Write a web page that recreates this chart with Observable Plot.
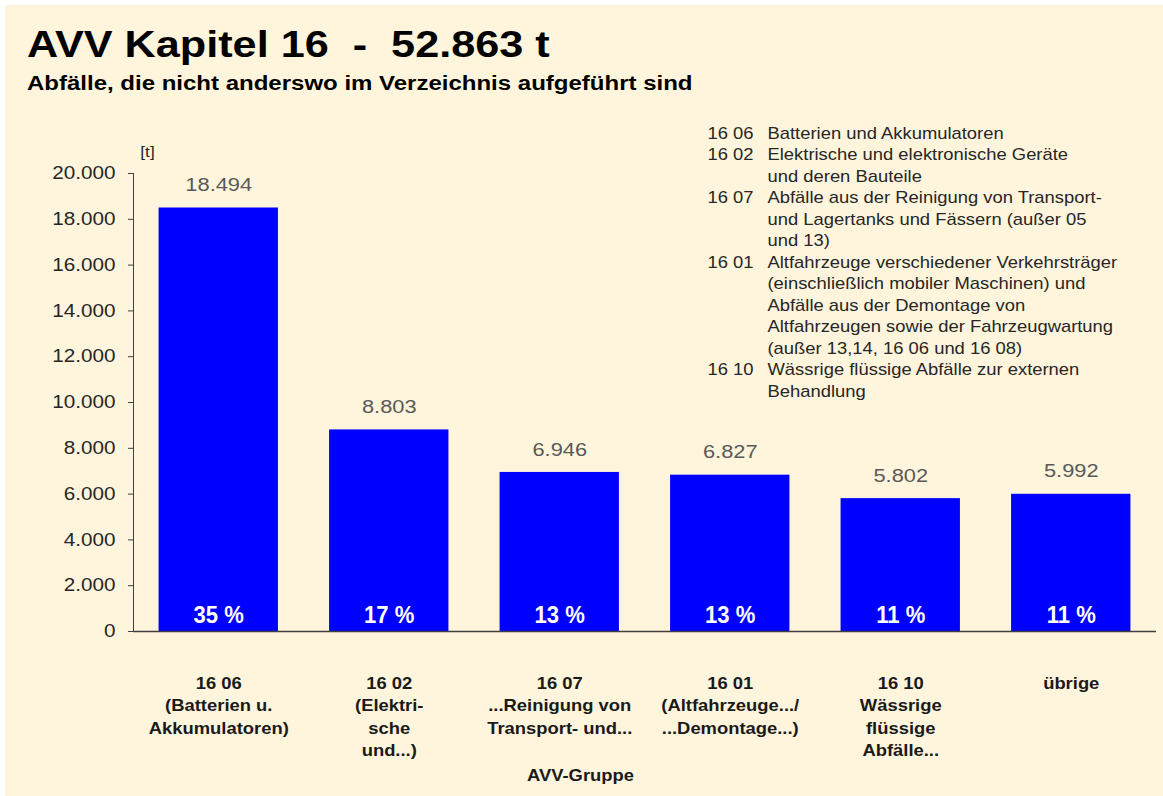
<!DOCTYPE html>
<html>
<head>
<meta charset="utf-8">
<script src="https://cdn.jsdelivr.net/npm/d3@7"></script>
<script src="https://cdn.jsdelivr.net/npm/@observablehq/plot@0.6"></script>
<style>
  html, body { margin: 0; padding: 0; background: #ffffff; width: 1163px; height: 796px; overflow: hidden; }
  #panel { position: absolute; left: 5px; top: 5px; width: 1158px; height: 791px; background: #FFF5DC; }
  #title { position: absolute; left: 27px; top: 27px; font-family: "Liberation Sans", Arial, sans-serif; font-weight: bold; font-size: 36px; color: #000; white-space: pre; line-height: 1; transform: scale(1.2, 1); transform-origin: 0 0; }
  #subtitle { position: absolute; left: 27px; top: 73px; font-family: "Liberation Sans", Arial, sans-serif; font-weight: bold; font-size: 20px; color: #000; white-space: pre; line-height: 1; transform: scale(1.2, 1); transform-origin: 0 0; }
  #chart { position: absolute; left: 0; top: 100px; }
</style>
</head>
<body>
<div id="panel"></div>
<div id="title">AVV Kapitel 16  -  52.863 t</div>
<div id="subtitle">Abfälle, die nicht anderswo im Verzeichnis aufgeführt sind</div>
<div id="chart"></div>
<script>
const categories = ["16 06", "16 02", "16 07", "16 01", "16 10", "übrige"];
const values = [18494, 8803, 6946, 6827, 5802, 5992];
const percents = [35, 17, 13, 13, 11, 11];
const xLabels = [
  "16 06\n(Batterien u.\nAkkumulatoren)",
  "16 02\n(Elektri-\nsche\nund...)",
  "16 07\n...Reinigung von\nTransport- und...",
  "16 01\n(Altfahrzeuge.../\n...Demontage...)",
  "16 10\nWässrige\nflüssige\nAbfälle...",
  "übrige"
];
const yTicks = [0, 2000, 4000, 6000, 8000, 10000, 12000, 14000, 16000, 18000, 20000];
const legendCodes = ["16 06", "16 02", "16 07", "16 01", "16 10"];
const legendTexts = [
  "Batterien und Akkumulatoren",
  "Elektrische und elektronische Geräte\nund deren Bauteile",
  "Abfälle aus der Reinigung von Transport-\nund Lagertanks und Fässern (außer 05\nund 13)",
  "Altfahrzeuge verschiedener Verkehrsträger\n(einschließlich mobiler Maschinen) und\nAbfälle aus der Demontage von\nAltfahrzeugen sowie der Fahrzeugwartung\n(außer 13,14, 16 06 und 16 08)",
  "Wässrige flüssige Abfälle zur externen\nBehandlung"
];
const yUnit = "[t]";
const xTitle = "AVV-Gruppe";

const de = d3.formatLocale({decimal: ",", thousands: ".", grouping: [3], currency: ["", " €"]});
const fmt = de.format(",.0f");

const data = categories.map((c, i) => ({cat: c, value: values[i], pct: percents[i], label: xLabels[i]}));

const FONT = "Liberation Sans, Arial, sans-serif";
const STRETCH = 1.15;
const PCT_STRETCH = 0.92;
const W = 1163, H = 696;
const mL = 133, mR = 7, mT = 73, mB = 165;
const LINE = 21.5;

// legend: one text mark per line, positioned by running line index
const legendMarks = [];
let lineIdx = 0;
legendCodes.forEach((code, i) => {
  const lines = legendTexts[i].split("\n");
  legendMarks.push(Plot.text([code], {
    text: d => d, frameAnchor: "top-left", dx: 707 - mL, dy: -40 + lineIdx * LINE,
    textAnchor: "start", lineAnchor: "middle", fontSize: 16, fill: "#262626", fontFamily: FONT
  }));
  lines.forEach((ln, j) => {
    legendMarks.push(Plot.text([ln], {
      text: d => d, frameAnchor: "top-left", dx: 767 - mL, dy: -40 + (lineIdx + j) * LINE,
      textAnchor: "start", lineAnchor: "middle", fontSize: 16, fill: "#262626", fontFamily: FONT
    }));
  });
  lineIdx += lines.length;
});

const chart = Plot.plot({
  width: W,
  height: H,
  marginLeft: mL,
  marginRight: mR,
  marginTop: mT,
  marginBottom: mB,
  style: {background: "transparent", fontFamily: FONT, overflow: "visible"},
  x: {type: "band", domain: categories, paddingInner: 0.3, paddingOuter: 0.15, round: false, axis: null},
  y: {domain: [0, 20000], axis: null},
  marks: [
    Plot.barY(data, {x: "cat", y: "value", fill: "#0000FF"}),
    Plot.axisY({ticks: yTicks, tickFormat: fmt, tickSize: 5, tickPadding: 13, fontSize: 18, fill: "#262626", stroke: "#404040", label: null}),
    Plot.frame({anchor: "left", stroke: "#404040"}),
    Plot.ruleY([0], {stroke: "#404040", strokeWidth: 1.5}),
    Plot.text(data, {x: "cat", y: "value", text: d => fmt(d.value), dy: -23, lineAnchor: "middle", fontSize: 19, fill: "#595959"}),
    Plot.text(data, {x: "cat", frameAnchor: "bottom", text: d => d.pct + " %", dy: -16, lineAnchor: "middle", fontSize: 24, fontWeight: "bold", fill: "#ffffff"}),
    Plot.text(data, {x: "cat", frameAnchor: "bottom", text: "label", dy: 41, lineAnchor: "top", lineHeight: 1.41, fontSize: 16, fontWeight: "bold", fill: "#1a1a1a"}),
    Plot.text([xTitle], {text: d => d, frameAnchor: "bottom-left", dx: 580 - mL, dy: 775 - 100 - (H - mB), textAnchor: "middle", lineAnchor: "middle", fontSize: 16, fontWeight: "bold", fill: "#1a1a1a"}),
    Plot.text([yUnit], {text: d => d, frameAnchor: "top-left", dx: 14, dy: -21, textAnchor: "middle", lineAnchor: "middle", fontSize: 15, fill: "#262626"}),
    ...legendMarks
  ]
});
// the reference's lettering is slightly wide (percent labels slightly narrow): stretch each label about its own anchor
chart.querySelectorAll("text").forEach(t => {
  const s = /%$/.test(t.textContent.trim()) ? PCT_STRETCH : STRETCH;
  const tr = t.getAttribute("transform") || "";
  t.setAttribute("transform", (tr + " scale(" + s + ",1)").trim());
});
document.getElementById("chart").appendChild(chart);
</script>
</body>
</html>
